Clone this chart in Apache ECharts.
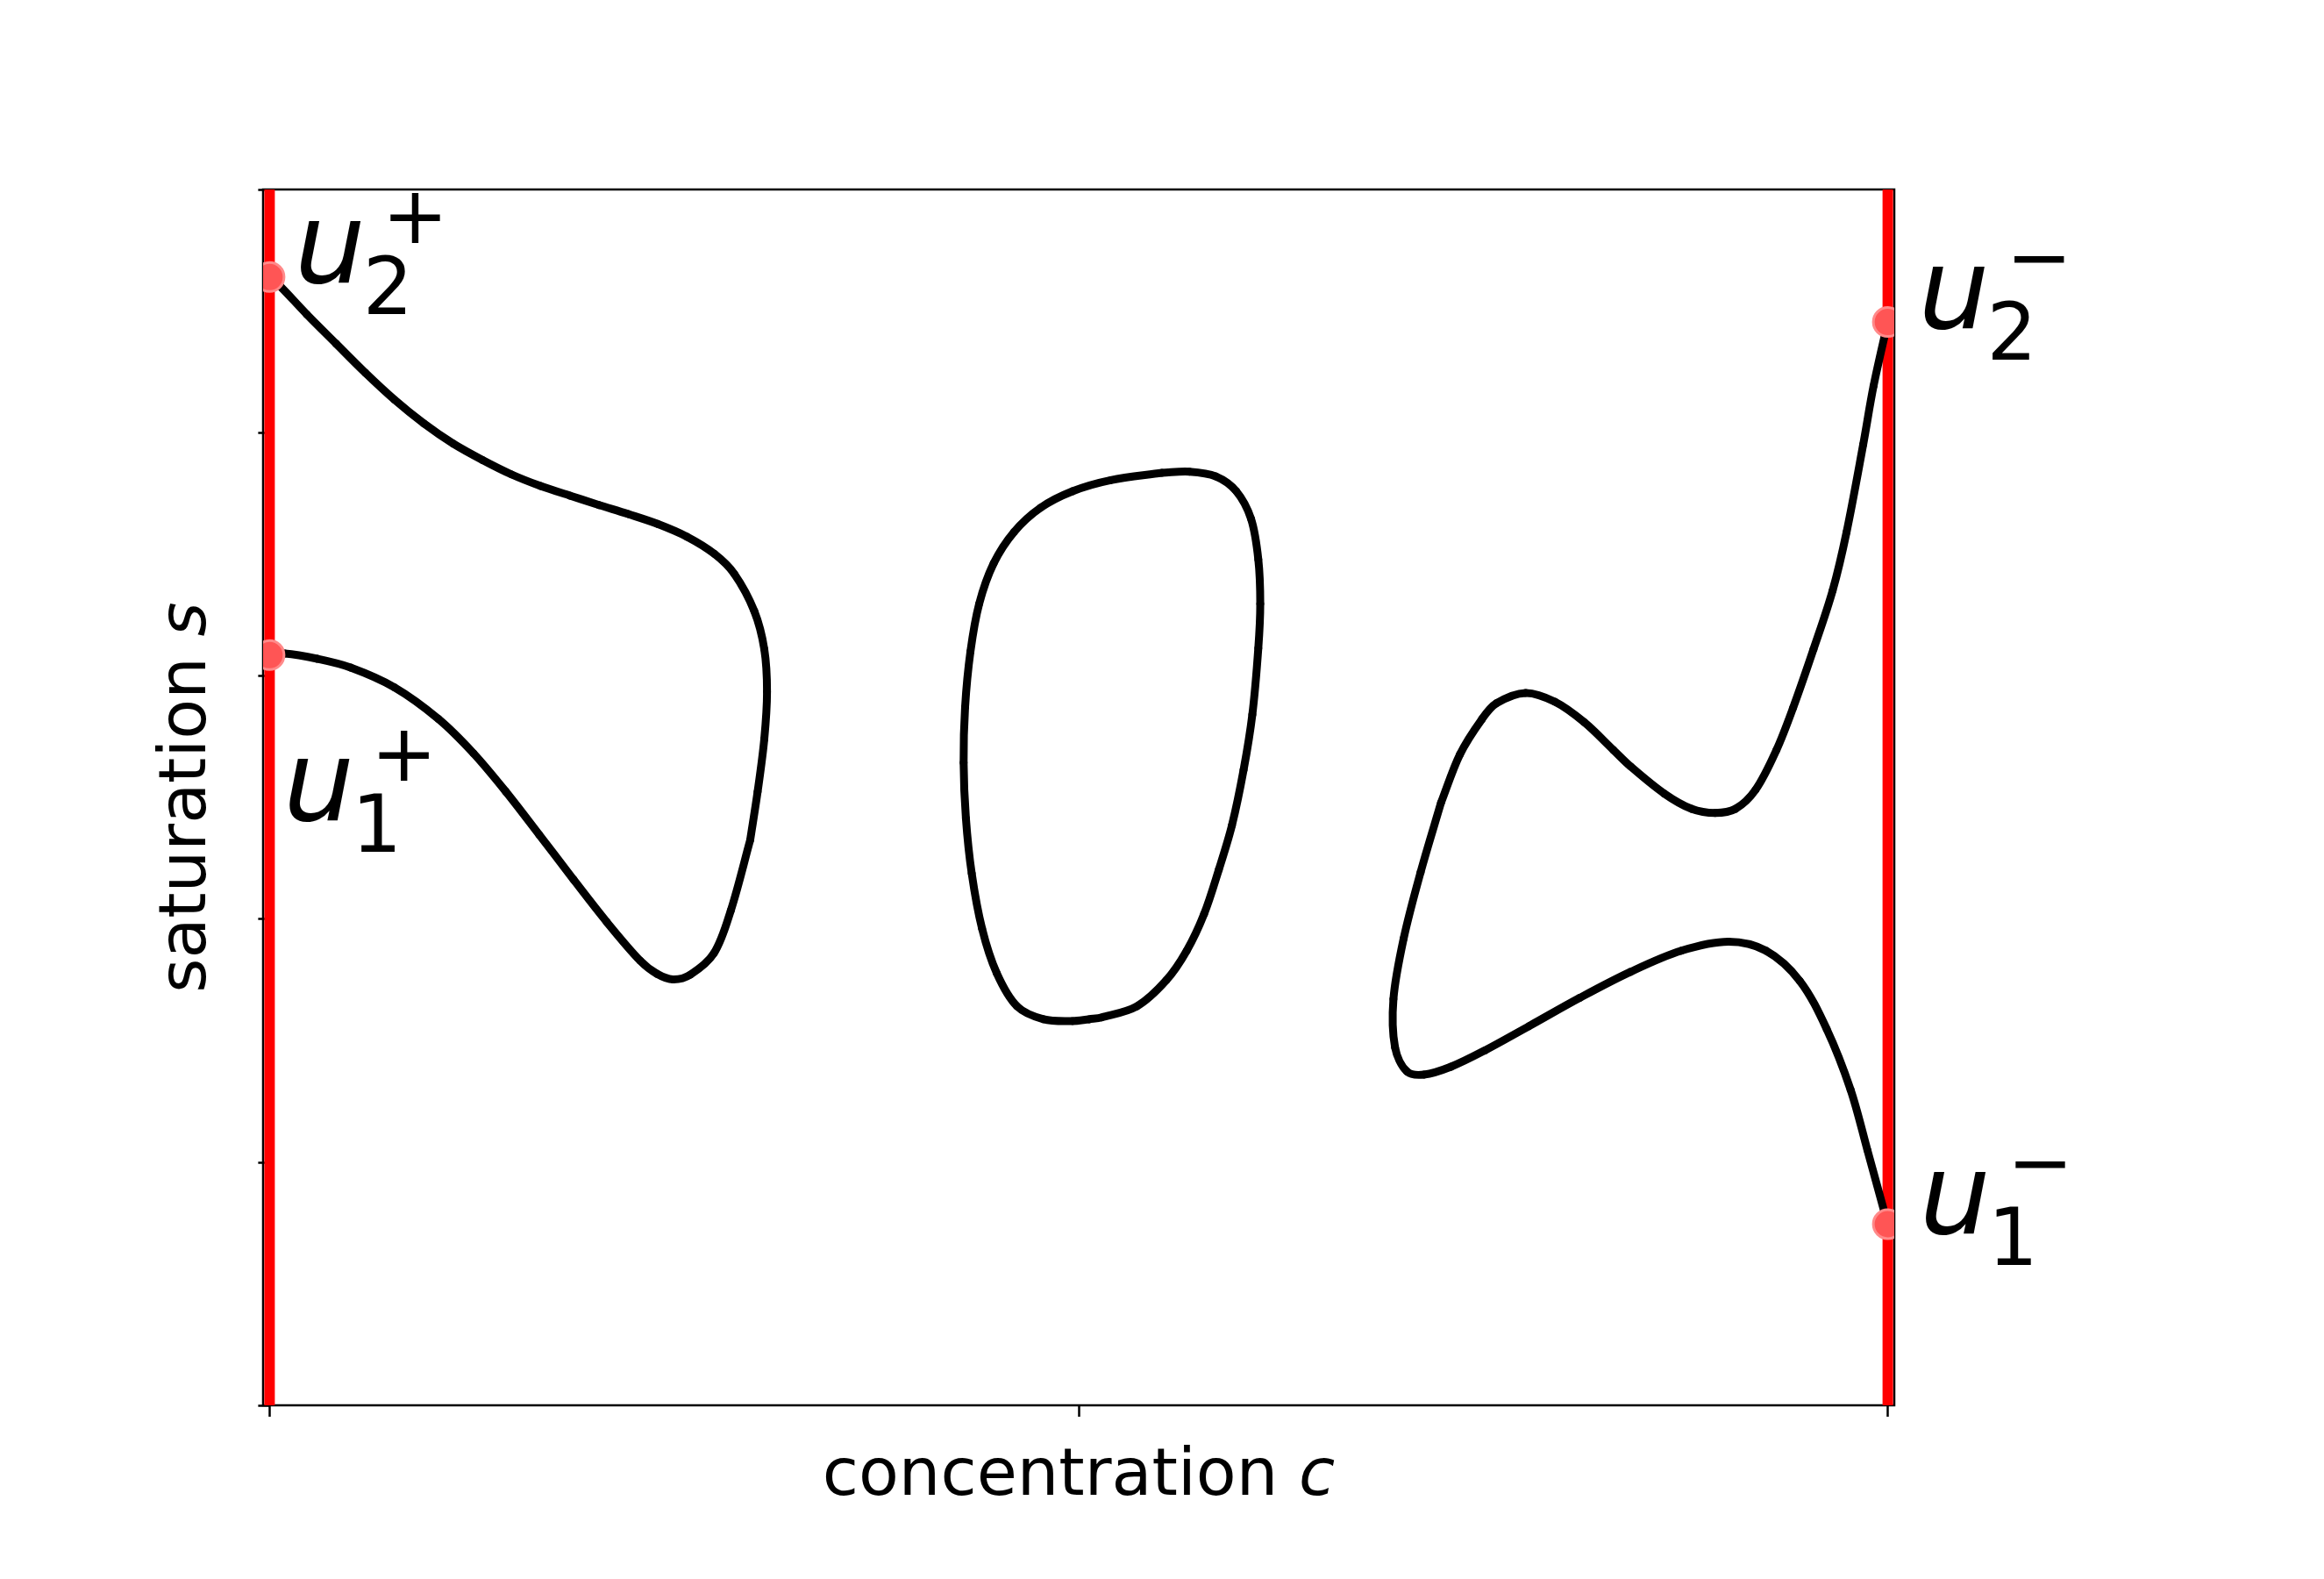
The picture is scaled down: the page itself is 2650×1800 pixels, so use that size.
<!DOCTYPE html>
<html>
<head>
<meta charset="utf-8">
<script src="https://cdn.jsdelivr.net/npm/echarts@6/dist/echarts.min.js"></script>
<style>
  html, body { margin: 0; padding: 0; background: #fff; }
  #chart { width: 2650px; height: 1800px; }
</style>
</head>
<body>
<div id="chart"></div>
<script>
// tick positions (no tick labels are drawn)
const xTicks = [0, 0.5, 1]
const yTicks = [0, 0.2, 0.4, 0.6, 0.8, 1]

// red boundary lines c = 0 and c = 1
const boundaryX = [0, 1]

// left curve: u2+ -> kink -> u1+
const leftCurveUpper = [
  [0.0000, 0.9280], [0.0068, 0.9201], [0.0230, 0.8973], [0.0411, 0.8732], [0.0592, 0.8492],
  [0.0772, 0.8271], [0.0953, 0.8076], [0.1134, 0.7910], [0.1314, 0.7776], [0.1494, 0.7657],
  [0.1675, 0.7561], [0.1856, 0.7482], [0.2036, 0.7405], [0.2217, 0.7330], [0.2398, 0.7249],
  [0.2578, 0.7145], [0.2750, 0.7002], [0.2871, 0.6840], [0.2995, 0.6533], [0.3057, 0.6220],
  [0.3074, 0.5869], [0.3057, 0.5478], [0.3016, 0.5047], [0.2970, 0.4649],
]
const leftCurveLower = [
  [0.2970, 0.4649], [0.2850, 0.4069], [0.2746, 0.3718], [0.2601, 0.3543], [0.2493, 0.3503],
  [0.2393, 0.3550], [0.2290, 0.3657], [0.2084, 0.3975], [0.1878, 0.4325], [0.1666, 0.4694],
  [0.1460, 0.5048], [0.1260, 0.5363], [0.1043, 0.5646], [0.0772, 0.5905], [0.0501, 0.6068],
  [0.0295, 0.6140], [0.0095, 0.6183], [0.0000, 0.6169],
]

// closed loop in the middle, two pieces joined at top and bottom
const loopRight = [
  [0.5514, 0.7670], [0.5685, 0.7679], [0.5848, 0.7640], [0.5974, 0.7518], [0.6065, 0.7291],
  [0.6110, 0.6957], [0.6122, 0.6592], [0.6110, 0.6227], [0.6073, 0.5681], [0.6019, 0.5226],
  [0.5947, 0.4770], [0.5866, 0.4406], [0.5775, 0.4041], [0.5667, 0.3737], [0.5541, 0.3495],
  [0.5360, 0.3282], [0.5143, 0.3191], [0.5064, 0.3175],
]
const loopLeft = [
  [0.5064, 0.3175], [0.4962, 0.3161], [0.4782, 0.3176], [0.4619, 0.3282], [0.4493, 0.3556],
  [0.4403, 0.3920], [0.4339, 0.4375], [0.4303, 0.4830], [0.4289, 0.5286], [0.4298, 0.5742],
  [0.4331, 0.6198], [0.4385, 0.6592], [0.4475, 0.6926], [0.4601, 0.7184], [0.4764, 0.7382],
  [0.4962, 0.7518], [0.5198, 0.7609], [0.5514, 0.7670],
]

// right curve: u2- -> kink -> u1-
const rightCurveUpper = [
  [1.0000, 0.8911], [0.9912, 0.8384], [0.9848, 0.7903], [0.9745, 0.7181], [0.9659, 0.6701],
  [0.9541, 0.6219], [0.9415, 0.5738], [0.9312, 0.5390], [0.9182, 0.5061], [0.9059, 0.4906],
  [0.8933, 0.4872], [0.8787, 0.4906], [0.8619, 0.5031], [0.8410, 0.5255], [0.8304, 0.5390],
  [0.8124, 0.5618], [0.7943, 0.5786], [0.7762, 0.5859], [0.7582, 0.5774], [0.7491, 0.5642],
  [0.7356, 0.5354], [0.7239, 0.4956],
]
const rightCurveLower = [
  [0.7239, 0.4956], [0.7113, 0.4385], [0.7008, 0.3838], [0.6945, 0.3341], [0.6955, 0.2944],
  [0.7029, 0.2745], [0.7134, 0.2720], [0.7301, 0.2785], [0.7510, 0.2919], [0.7782, 0.3118],
  [0.8096, 0.3351], [0.8410, 0.3565], [0.8724, 0.3739], [0.9016, 0.3813], [0.9247, 0.3739],
  [0.9456, 0.3491], [0.9623, 0.3093], [0.9770, 0.2596], [0.9874, 0.2099], [1.0000, 0.1486],
]

// states on the boundaries and their labels
const statePoints = [[0, 0.928], [0, 0.617], [1, 0.891], [1, 0.149]]
const stateNames = ['u', 'u', 'u', 'u']
const stateSubs = ['2', '1', '2', '1']
const stateSups = ['+', '+', '\u2212', '\u2212']
// left end / baseline of each "u"
const stateLabelAt = [[0.0176, 0.9214], [0.0106, 0.4791], [1.0211, 0.8838], [1.0217, 0.1393]]

const FONT = '"DejaVu Sans", sans-serif'
const chart = echarts.init(document.getElementById('chart'))

// smooth curve through the points: one cubic segment per point (Catmull-Rom)
const curve = (data) => ({
  type: 'custom',
  data: data,
  silent: true,
  z: 3,
  renderItem: (params, api) => {
    const i = params.dataIndex
    const n = data.length
    if (i >= n - 1) return { type: 'group', children: [] }
    const pt = k => {
      const j = Math.max(0, Math.min(n - 1, k))
      return api.coord([api.value(0, j), api.value(1, j)])
    }
    const dist = (a, b) => Math.hypot(a[0] - b[0], a[1] - b[1])
    const p0 = pt(i - 1), p1 = pt(i), p2 = pt(i + 1), p3 = pt(i + 2)
    const d01 = dist(p0, p1), d12 = dist(p1, p2), d23 = dist(p2, p3)
    const k1 = (d01 + d12) > 0 ? d12 / (d01 + d12) / 3 : 0
    const k2 = (d12 + d23) > 0 ? d12 / (d12 + d23) / 3 : 0
    return {
      type: 'bezierCurve',
      shape: {
        x1: p1[0], y1: p1[1], x2: p2[0], y2: p2[1],
        cpx1: p1[0] + (p2[0] - p0[0]) * k1, cpy1: p1[1] + (p2[1] - p0[1]) * k1,
        cpx2: p2[0] - (p3[0] - p1[0]) * k2, cpy2: p2[1] - (p3[1] - p1[1]) * k2,
      },
      style: { stroke: '#000', fill: null, lineWidth: 9, lineCap: 'round' },
    }
  },
})

const option = {
  animation: false,
  grid: {
    left: 300, right: 490, top: 216, bottom: 198,
    show: true, borderColor: '#000', borderWidth: 2.5,
  },
  xAxis: {
    type: 'value',
    min: -0.004,
    max: 1.004,
    name: '{n|concentration }{i|c}',
    nameLocation: 'middle',
    nameGap: 45,
    nameTextStyle: {
      rich: {
        n: { fontSize: 75, fontFamily: FONT, color: '#000' },
        i: { fontSize: 75, fontFamily: FONT, fontStyle: 'italic', color: '#000' },
      },
    },
    axisLine: { show: false },
    splitLine: { show: false },
    axisLabel: { show: false, customValues: xTicks },
    axisTick: { show: true, customValues: xTicks, length: 13, lineStyle: { color: '#000', width: 2.5 } },
  },
  yAxis: {
    type: 'value',
    min: 0,
    max: 1,
    interval: 0.2,
    name: '{n|saturation }{i|s}',
    nameLocation: 'middle',
    nameRotate: 90,
    nameGap: 48,
    nameTextStyle: {
      rich: {
        n: { fontSize: 75, fontFamily: FONT, color: '#000' },
        i: { fontSize: 75, fontFamily: FONT, fontStyle: 'italic', color: '#000' },
      },
    },
    axisLine: { show: false },
    splitLine: { show: false },
    axisLabel: { show: false, customValues: yTicks },
    axisTick: { show: true, customValues: yTicks, length: 13, lineStyle: { color: '#000', width: 2.5 } },
  },
  series: [
    ...boundaryX.map(x => ({
      type: 'line',
      data: [[x, 0], [x, 1]],
      showSymbol: false,
      silent: true,
      z: 1,
      lineStyle: { color: '#ff0000', width: 12 },
    })),
    curve(leftCurveUpper),
    curve(leftCurveLower),
    curve(loopRight),
    curve(loopLeft),
    curve(rightCurveUpper),
    curve(rightCurveLower),
    {
      type: 'custom',
      data: statePoints,
      clip: true,
      silent: true,
      z: 5,
      renderItem: (params, api) => {
        const p = api.coord([api.value(0), api.value(1)])
        return {
          type: 'circle',
          shape: { cx: p[0], cy: p[1], r: 16.5 },
          style: { fill: '#ff5555', stroke: '#ff8a8a', lineWidth: 3 },
        }
      },
    },
  ],
}
chart.setOption(option)

// state labels u_i^(+/-) as mathtext-like pieces
const U_FS = 128
const S_FS = 90
const textEl = (text, x, y, size, italic) => ({
  type: 'text',
  x: x,
  y: y,
  silent: true,
  z: 10,
  style: {
    text: text,
    fontSize: size,
    fontFamily: FONT,
    fontStyle: italic ? 'italic' : 'normal',
    fill: '#000',
    align: 'left', textAlign: 'left',
    verticalAlign: 'middle', textVerticalAlign: 'middle',
  },
})
const graphics = []
stateLabelAt.forEach((at, i) => {
  const [px, py] = chart.convertToPixel({ gridIndex: 0 }, at)
  graphics.push(textEl(stateNames[i], px - 4, py - 0.346 * U_FS + 8, U_FS, true))
  graphics.push(textEl(stateSubs[i], px + 74, py + 10, S_FS, false))
  const supY = stateSups[i] === '+' ? py - 71 : py - 76
  graphics.push(textEl(stateSups[i], px + 96, supY, S_FS, false))
})
chart.setOption({ graphic: graphics })
</script>
</body>
</html>
